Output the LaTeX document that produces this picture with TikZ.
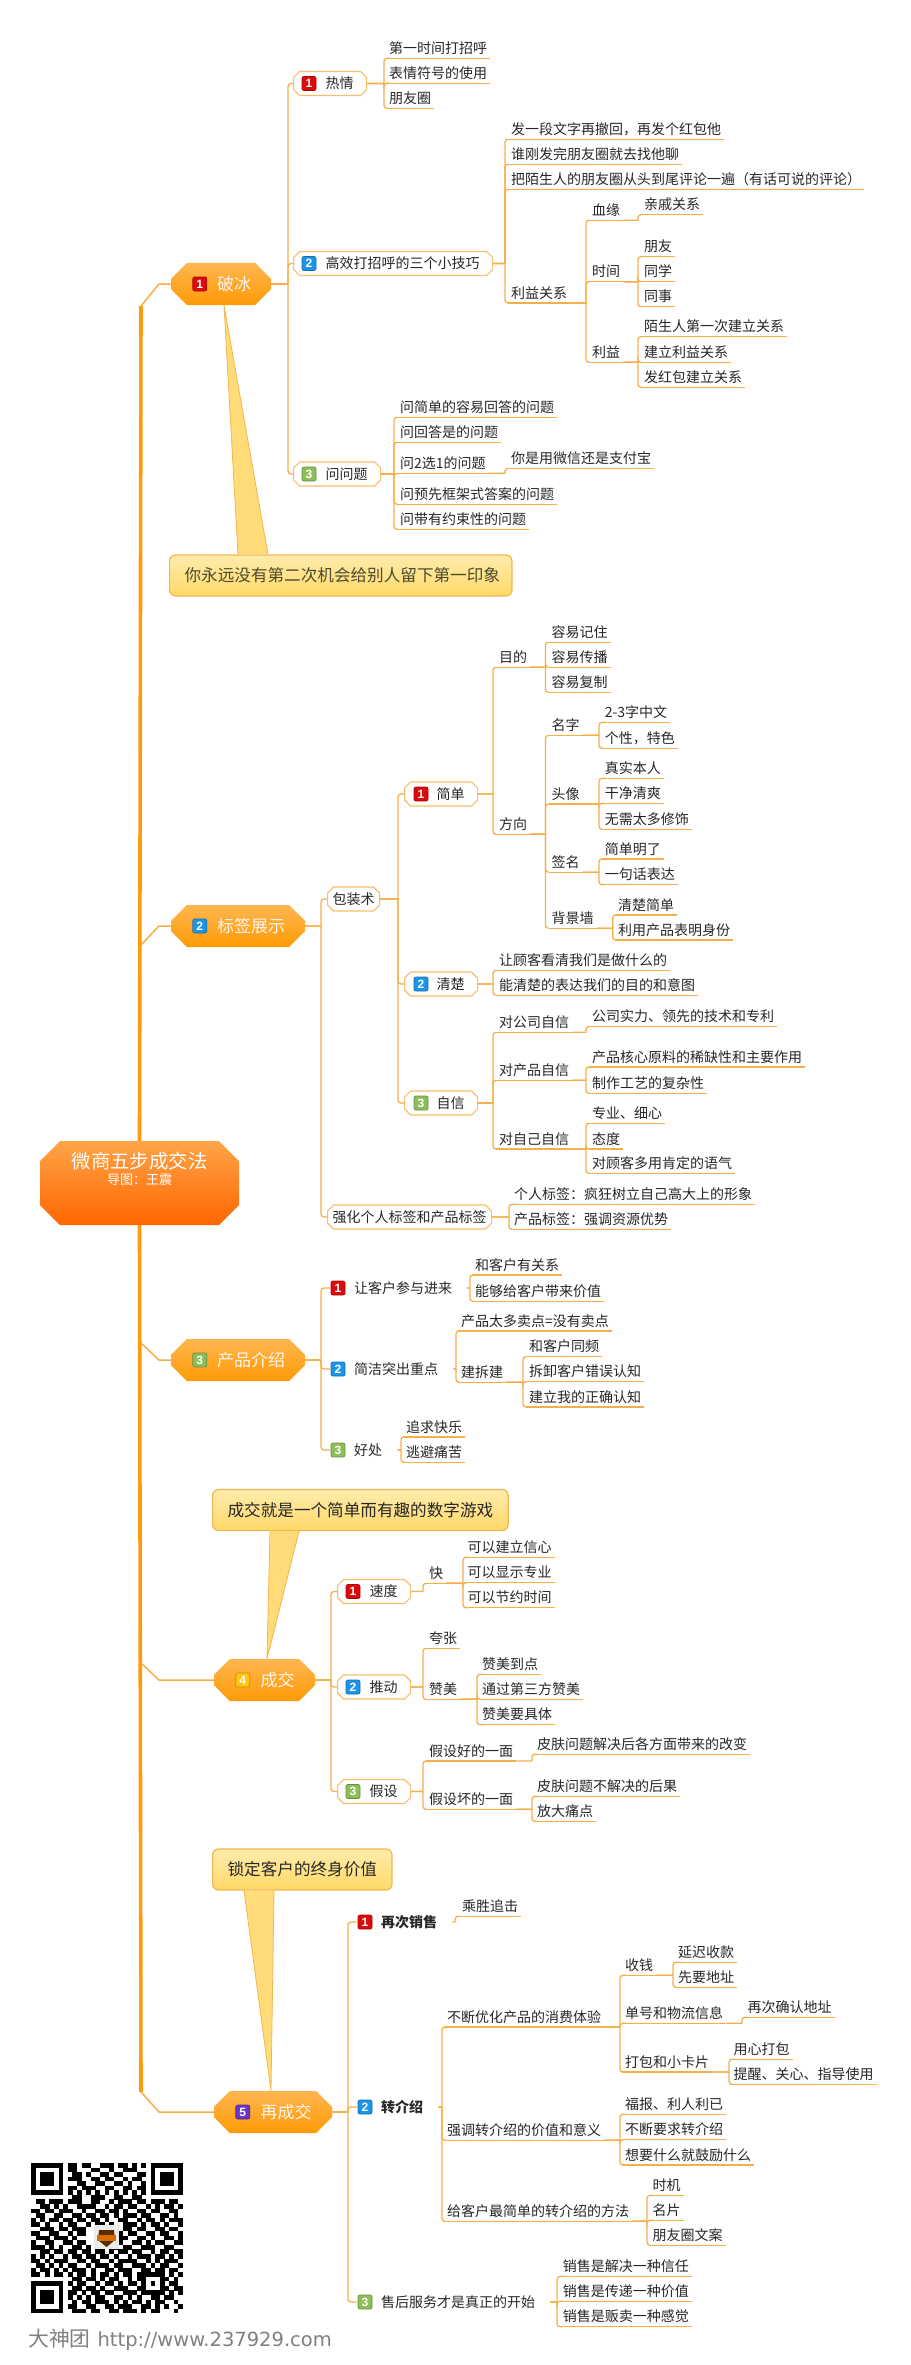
\documentclass[tikz,border=0pt]{standalone}
\usepackage{fontspec}
\setmainfont{Noto Sans CJK SC}
\newfontfamily\numFont{Liberation Sans}
\newfontfamily\webFont{DejaVu Sans}
\usetikzlibrary{shapes.misc}
\definecolor{trunkOrange}{HTML}{FF9A0D}
\definecolor{linkOrange}{HTML}{F6AE48}
\definecolor{mainLight}{HTML}{FFB650}
\definecolor{mainDeep}{HTML}{FF9A05}
\definecolor{rootLight}{HTML}{FFA448}
\definecolor{rootDeep}{HTML}{FF6600}
\definecolor{noteLight}{HTML}{FFEDAC}
\definecolor{noteDeep}{HTML}{FFD868}
\definecolor{noteEdge}{HTML}{F3B552}
\definecolor{numRed}{HTML}{DC0A0A}
\definecolor{numBlue}{HTML}{1B95E8}
\definecolor{numGreen}{HTML}{8DBE57}
\definecolor{numYellow}{HTML}{FFC414}
\definecolor{numPurple}{HTML}{6A35C8}
\tikzset{
link/.style={draw=linkOrange,line width=1.3pt},
branch/.style={to path={-- (#1,0 |- \tikztostart) ++(0,0) [rounded corners=3pt] |- (\tikztotarget)}},
trunk/.style={draw=trunkOrange,line width=3.6pt},
twig/.style={draw=linkOrange,line width=1.5pt},
uline/.style={draw=linkOrange,line width=1.3pt},
leaf/.style={anchor=south west,inner xsep=3pt,inner ysep=2pt,text=black!85,
    font=\fontsize{14}{16}\selectfont,text height=11pt,text depth=2.7pt,
    append after command={(\tikzlastnode.south west) edge[uline] (\tikzlastnode.south east)}},
rootnode/.style={chamfered rectangle,chamfered rectangle xsep=10pt,chamfered rectangle ysep=10pt,
    top color=rootLight,middle color=rootDeep,bottom color=rootDeep,
    minimum width=199pt,minimum height=84pt,inner sep=0pt,text=white,align=center},
mainnode/.style={chamfered rectangle,chamfered rectangle xsep=8pt,chamfered rectangle ysep=8pt,
    top color=mainLight,middle color=mainDeep,bottom color=mainDeep,
    minimum height=42pt,inner sep=0pt,text=white!92!orange,
    font=\fontsize{17}{20}\selectfont,execute at begin node={\hspace*{26pt}}},
subplain/.style={chamfered rectangle,chamfered rectangle xsep=3pt,chamfered rectangle ysep=3pt,
    anchor=west,draw=linkOrange!80,fill=white,line width=1.2pt,minimum height=24pt,
    inner xsep=3pt,inner ysep=0pt,text=black!85,font=\fontsize{14}{16}\selectfont},
subbox/.style={subplain,inner xsep=7pt,execute at begin node={\hspace*{22pt}},execute at end node={\hspace*{3pt}}},
plainkid/.style={anchor=west,inner xsep=0pt,inner ysep=2pt,text=black!85,
    font=\fontsize{14}{16}\selectfont,
    execute at begin node={\hspace*{24pt}},execute at end node={\hspace*{15pt}}},
badge/.style={rectangle,rounded corners=2pt,fill=#1,draw=#1!75!black,line width=0.7pt,
    minimum size=14pt,inner sep=0pt,text=white,font=\numFont\bfseries\fontsize{12}{12}\selectfont},
noteBox/.style={rectangle,rounded corners=6pt,top color=noteLight,bottom color=noteDeep,
    draw=noteEdge,line width=1.2pt,minimum height=41pt,anchor=west,inner xsep=0pt,
    font=\fontsize{16.6}{20}\selectfont},
noteTail/.style={fill=noteDeep!90!white},
noteSide/.style={draw=noteEdge,line width=0.8pt},
qrDot/.style={fill=black}
}
\newcount\qrCol
\newcommand{\qrNext}[1]{\ifx#1\relax\else\if#11\fill[qrDot] ({31+4.6*\the\qrCol},{2163+4.55*\qrRow}) rectangle +(4.7,4.65);\fi\advance\qrCol by 1 \expandafter\qrNext\fi}

\begin{document}
\begin{tikzpicture}[x=1pt,y=-1pt]
    \useasboundingbox (0,0) rectangle (910,2365);

    \node[rootnode] (ce) at (139.5,1183) {{\fontsize{19.4}{20}\selectfont 微商五步成交法}\\[3pt]{\fontsize{13}{16}\selectfont 导图：王震}\\[0pt]\rule{0pt}{27pt}};

    \coordinate (t_1) at (141,306);
    \coordinate (t_2) at (141,945);
    \coordinate (t_3) at (141,1343);
    \coordinate (t_4) at (141,1663);
    \coordinate (t_5) at (141,2092);

    \node[mainnode,minimum width=100pt] (m_1) at (221,284) {破冰};
    \node[mainnode,minimum width=134pt] (m_2) at (238,926) {标签展示};
    \node[mainnode,minimum width=134pt] (m_3) at (238,1360) {产品介绍};
    \node[mainnode,minimum width=101pt] (m_4) at (264.5,1680) {成交};
    \node[mainnode,minimum width=118pt] (m_5) at (273,2112) {再成交};
    \node[badge=numRed] (n_1) at ([xshift=29pt]m_1.west) {1};
    \node[badge=numBlue] (n_2) at ([xshift=29pt]m_2.west) {2};
    \node[badge=numGreen] (n_3) at ([xshift=29pt]m_3.west) {3};
    \node[badge=numYellow] (n_4) at ([xshift=29pt]m_4.west) {4};
    \node[badge=numPurple] (n_5) at ([xshift=29pt]m_5.west) {5};

    \draw[trunk] (ce.north) -- (t_1);
    \draw[trunk] (ce.south) -- (t_5);
    \foreach \k in {1,...,5}
        \draw[twig] (t_\k) -- (159,0 |- m_\k.west) -- (m_\k.west);

    \node[subbox] (a_1) at (293,83.5) {热情};
    \node[subbox] (a_2) at (293,263.5) {高效打招呼的三个小技巧};
    \node[subbox] (a_3) at (293,474) {问问题};
    \node[badge=numRed] (n_a1) at ([xshift=16pt]a_1.west) {1};
    \node[badge=numBlue] (n_a2) at ([xshift=16pt]a_2.west) {2};
    \node[badge=numGreen] (n_a3) at ([xshift=16pt]a_3.west) {3};

    \node[leaf] (a_11) at (386,58.3) {第一时间打招呼};
    \node[leaf] (a_12) at (386,83.3) {表情符号的使用};
    \node[leaf] (a_13) at (386,108.3) {朋友圈};
    \node[leaf] (a_21) at (508,139.3) {发一段文字再撤回，再发个红包他};
    \node[leaf] (a_22) at (508,164.3) {谁刚发完朋友圈就去找他聊};
    \node[leaf] (a_23) at (508,189.3) {把陌生人的朋友圈从头到尾评论一遍（有话可说的评论）};
    \node[leaf] (a_24) at (508,303) {利益关系};
    \node[leaf] (a_241) at (589,220.3) {血缘};
    \node[leaf] (a_242) at (589,281.7) {时间};
    \node[leaf] (a_243) at (589,362.3) {利益};
    \node[leaf] (a_2411) at (641,214.7) {亲戚关系};
    \node[leaf] (a_2421) at (641,256.7) {朋友};
    \node[leaf] (a_2422) at (641,281.7) {同学};
    \node[leaf] (a_2423) at (641,306.7) {同事};
    \node[leaf] (a_2431) at (641,336.7) {陌生人第一次建立关系};
    \node[leaf] (a_2432) at (641,362.3) {建立利益关系};
    \node[leaf] (a_2433) at (641,387.3) {发红包建立关系};
    \node[leaf] (a_31) at (397,417.3) {问简单的容易回答的问题};
    \node[leaf] (a_32) at (397,442.3) {问回答是的问题};
    \node[leaf] (a_33) at (397,473.3) {问2选1的问题};
    \node[leaf] (a_331) at (508,468.3) {你是用微信还是支付宝};
    \node[leaf] (a_34) at (397,504.3) {问预先框架式答案的问题};
    \node[leaf] (a_35) at (397,529.3) {问带有约束性的问题};

    \foreach \k in {a_1,a_2,a_3} \draw[link] (m_1.east) to[branch=288] (\k.west);
    \foreach \k in {a_11,a_12,a_13} \draw[link] (a_1.east) to[branch=384] (\k.south west);
    \foreach \k in {a_21,a_22,a_23,a_24} \draw[link] (a_2.east) to[branch=505] (\k.south west);
    \foreach \k in {a_241,a_242,a_243} \draw[link] (a_24.south east) to[branch=586] (\k.south west);
    \draw[link] (a_241.south east) to[branch=638] (a_2411.south west);
    \foreach \k in {a_2421,a_2422,a_2423} \draw[link] (a_242.south east) to[branch=638] (\k.south west);
    \foreach \k in {a_2431,a_2432,a_2433} \draw[link] (a_243.south east) to[branch=638] (\k.south west);
    \foreach \k in {a_31,a_32,a_33,a_34,a_35} \draw[link] (a_3.east) to[branch=394] (\k.south west);
    \draw[link] (a_33.south east) to[branch=505] (a_331.south west);

    \node[noteBox,text=black!60!olive] (k_1) at (169,575.5) {\hspace*{15pt}你永远没有第二次机会给别人留下第一印象\hspace*{12pt}};
    \fill[noteTail] ([xshift=3pt]m_1.south) -- ([xshift=69pt]k_1.north west) -- ([xshift=99pt]k_1.north west) -- cycle;
    \draw[noteSide] ([xshift=69pt]k_1.north west) -- ([xshift=3pt]m_1.south) -- ([xshift=99pt]k_1.north west);

    \node[subplain,inner xsep=2pt] (b_1) at (327,899) {包装术};
    \node[subplain,inner xsep=2pt] (b_2) at (327,1217) {强化个人标签和产品标签};
    \node[subbox] (b_11) at (404,794) {简单};
    \node[subbox] (b_12) at (404,984) {清楚};
    \node[subbox] (b_13) at (404,1103) {自信};
    \node[badge=numRed] (n_b11) at ([xshift=17pt]b_11.west) {1};
    \node[badge=numBlue] (n_b12) at ([xshift=17pt]b_12.west) {2};
    \node[badge=numGreen] (n_b13) at ([xshift=17pt]b_13.west) {3};

    \node[leaf] (b_111) at (496,667.3) {目的};
    \node[leaf] (b_112) at (496,834.3) {方向};
    \node[leaf] (b_1111) at (548.5,642.3) {容易记住};
    \node[leaf] (b_1112) at (548.5,667.3) {容易传播};
    \node[leaf] (b_1113) at (548.5,692.3) {容易复制};
    \node[leaf] (b_1121) at (548.5,735.3) {名字};
    \node[leaf] (b_1122) at (548.5,804) {头像};
    \node[leaf] (b_1123) at (548.5,872.3) {签名};
    \node[leaf] (b_1124) at (548.5,928.3) {背景墙};
    \node[leaf] (b_11211) at (601.6,722.3) {2-3字中文};
    \node[leaf] (b_11212) at (601.6,748.3) {个性，特色};
    \node[leaf] (b_11221) at (601.6,778.3) {真实本人};
    \node[leaf] (b_11222) at (601.6,803.3) {干净清爽};
    \node[leaf] (b_11223) at (601.6,829.3) {无需太多修饰};
    \node[leaf] (b_11231) at (601.6,859) {简单明了};
    \node[leaf] (b_11232) at (601.6,884.7) {一句话表达};
    \node[leaf] (b_11241) at (615,915) {清楚简单};
    \node[leaf] (b_11242) at (615,940) {利用产品表明身份};
    \node[leaf] (b_121) at (496,970.3) {让顾客看清我们是做什么的};
    \node[leaf] (b_122) at (496,995.3) {能清楚的表达我们的目的和意图};
    \node[leaf] (b_131) at (496,1032.3) {对公司自信};
    \node[leaf] (b_132) at (496,1080.3) {对产品自信};
    \node[leaf] (b_133) at (496,1149) {对自己自信};
    \node[leaf] (b_1311) at (589,1026.7) {公司实力、领先的技术和专利};
    \node[leaf] (b_1321) at (589,1067) {产品核心原料的稀缺性和主要作用};
    \node[leaf] (b_1322) at (589,1093.3) {制作工艺的复杂性};
    \node[leaf] (b_1331) at (589,1123.3) {专业、细心};
    \node[leaf] (b_1332) at (589,1149) {态度};
    \node[leaf] (b_1333) at (589,1173.3) {对顾客多用肯定的语气};
    \node[leaf] (b_21) at (511,1204.3) {个人标签：疯狂树立自己高大上的形象};
    \node[leaf] (b_22) at (511,1229.3) {产品标签：强调资源优势};

    \foreach \k in {b_1,b_2} \draw[link] (m_2.east) to[branch=321] (\k.west);
    \foreach \k in {b_11,b_12,b_13} \draw[link] (b_1.east) to[branch=398] (\k.west);
    \foreach \k in {b_111,b_112} \draw[link] (b_11.east) to[branch=493] (\k.south west);
    \foreach \k in {b_1111,b_1112,b_1113} \draw[link] (b_111.south east) to[branch=545.5] (\k.south west);
    \foreach \k in {b_1121,b_1122,b_1123,b_1124} \draw[link] (b_112.south east) to[branch=545.5] (\k.south west);
    \foreach \k in {b_11211,b_11212} \draw[link] (b_1121.south east) to[branch=599] (\k.south west);
    \foreach \k in {b_11221,b_11222,b_11223} \draw[link] (b_1122.south east) to[branch=599] (\k.south west);
    \foreach \k in {b_11231,b_11232} \draw[link] (b_1123.south east) to[branch=599] (\k.south west);
    \foreach \k in {b_11241,b_11242} \draw[link] (b_1124.south east) to[branch=612.6] (\k.south west);
    \foreach \k in {b_121,b_122} \draw[link] (b_12.east) to[branch=493] (\k.south west);
    \foreach \k in {b_131,b_132,b_133} \draw[link] (b_13.east) to[branch=493] (\k.south west);
    \draw[link] (b_131.south east) to[branch=586] (b_1311.south west);
    \foreach \k in {b_1321,b_1322} \draw[link] (b_132.south east) to[branch=586] (\k.south west);
    \foreach \k in {b_1331,b_1332,b_1333} \draw[link] (b_133.south east) to[branch=586] (\k.south west);
    \foreach \k in {b_21,b_22} \draw[link] (b_2.east) to[branch=509] (\k.south west);

    \node[plainkid] (c_1) at (330,1288) {让客户参与进来};
    \node[plainkid] (c_2) at (330,1369) {简洁突出重点};
    \node[plainkid] (c_3) at (330,1450) {好处};
    \node[badge=numRed] (n_c1) at ([xshift=8pt]c_1.west) {1};
    \node[badge=numBlue] (n_c2) at ([xshift=8pt]c_2.west) {2};
    \node[badge=numGreen] (n_c3) at ([xshift=8pt]c_3.west) {3};

    \node[leaf] (c_11) at (472,1275) {和客户有关系};
    \node[leaf] (c_12) at (472,1301.3) {能够给客户带来价值};
    \node[leaf] (c_21) at (458,1331) {产品太多卖点=没有卖点};
    \node[leaf] (c_22) at (458,1382.3) {建拆建};
    \node[leaf] (c_221) at (526,1356.7) {和客户同频};
    \node[leaf] (c_222) at (526,1381.7) {拆卸客户错误认知};
    \node[leaf] (c_223) at (526,1407) {建立我的正确认知};
    \node[leaf] (c_31) at (403,1437) {追求快乐};
    \node[leaf] (c_32) at (403,1462.3) {逃避痛苦};

    \foreach \k in {c_1,c_2,c_3} \draw[link] (m_3.east) to[branch=321] (\k.west);
    \foreach \k in {c_11,c_12} \draw[link] (c_1.east) to[branch=470] (\k.south west);
    \foreach \k in {c_21,c_22} \draw[link] (c_2.east) to[branch=456] (\k.south west);
    \foreach \k in {c_221,c_222,c_223} \draw[link] (c_22.south east) to[branch=523] (\k.south west);
    \foreach \k in {c_31,c_32} \draw[link] (c_3.east) to[branch=401] (\k.south west);

    \node[noteBox,text=black!85] (k_2) at (212,1510) {\hspace*{15pt}成交就是一个简单而有趣的数字游戏\hspace*{15pt}};
    \fill[noteTail] ([xshift=2.5pt]m_4.north) -- ([xshift=58pt]k_2.south west) -- ([xshift=87pt]k_2.south west) -- cycle;
    \draw[noteSide] ([xshift=58pt]k_2.south west) -- ([xshift=2.5pt]m_4.north) -- ([xshift=87pt]k_2.south west);

    \node[subbox] (d_1) at (337,1591.5) {速度};
    \node[subbox] (d_2) at (337,1687) {推动};
    \node[subbox] (d_3) at (337,1791.5) {假设};
    \node[badge=numRed] (n_d1) at ([xshift=16pt]d_1.west) {1};
    \node[badge=numBlue] (n_d2) at ([xshift=16pt]d_2.west) {2};
    \node[badge=numGreen] (n_d3) at ([xshift=16pt]d_3.west) {3};

    \node[leaf] (d_11) at (426,1583.3) {快};
    \node[leaf] (d_111) at (464.5,1557.3) {可以建立信心};
    \node[leaf] (d_112) at (464.5,1582.7) {可以显示专业};
    \node[leaf] (d_113) at (464.5,1607.7) {可以节约时间};
    \node[leaf] (d_21) at (426,1648.3) {夸张};
    \node[leaf] (d_22) at (426,1699.3) {赞美};
    \node[leaf] (d_221) at (479,1674.3) {赞美到点};
    \node[leaf] (d_222) at (479,1699.3) {通过第三方赞美};
    \node[leaf] (d_223) at (479,1724.7) {赞美要具体};
    \node[leaf] (d_31) at (426,1761) {假设好的一面};
    \node[leaf] (d_32) at (426,1809.3) {假设坏的一面};
    \node[leaf] (d_311) at (534,1754.3) {皮肤问题解决后各方面带来的改变};
    \node[leaf] (d_321) at (534,1796.3) {皮肤问题不解决的后果};
    \node[leaf] (d_322) at (534,1821.3) {放大痛点};

    \foreach \k in {d_1,d_2,d_3} \draw[link] (m_4.east) to[branch=331] (\k.west);
    \draw[link] (d_1.east) to[branch=423] (d_11.south west);
    \foreach \k in {d_111,d_112,d_113} \draw[link] (d_11.south east) to[branch=463] (\k.south west);
    \foreach \k in {d_21,d_22} \draw[link] (d_2.east) to[branch=423] (\k.south west);
    \foreach \k in {d_221,d_222,d_223} \draw[link] (d_22.south east) to[branch=477] (\k.south west);
    \foreach \k in {d_31,d_32} \draw[link] (d_3.east) to[branch=423] (\k.south west);
    \draw[link] (d_31.south east) to[branch=532] (d_311.south west);
    \foreach \k in {d_321,d_322} \draw[link] (d_32.south east) to[branch=532] (\k.south west);

    \node[noteBox,text=black!85] (k_3) at (212,1869.5) {\hspace*{15pt}锁定客户的终身价值\hspace*{15pt}};
    \fill[noteTail] ([xshift=-2pt]m_5.north) -- ([xshift=32pt]k_3.south west) -- ([xshift=62pt]k_3.south west) -- cycle;
    \draw[noteSide] ([xshift=32pt]k_3.south west) -- ([xshift=-2pt]m_5.north) -- ([xshift=62pt]k_3.south west);

    \node[plainkid,font=\fontsize{14}{16}\selectfont\bfseries] (e_1) at (357,1922) {再次销售};
    \node[plainkid,font=\fontsize{14}{16}\selectfont\bfseries] (e_2) at (357,2107) {转介绍};
    \node[plainkid] (e_3) at (357,2302) {售后服务才是真正的开始};
    \node[badge=numRed] (n_e1) at ([xshift=8pt]e_1.west) {1};
    \node[badge=numBlue] (n_e2) at ([xshift=8pt]e_2.west) {2};
    \node[badge=numGreen] (n_e3) at ([xshift=8pt]e_3.west) {3};

    \node[leaf] (e_11) at (459,1916.3) {乘胜追击};
    \node[leaf] (e_21) at (444,2027) {不断优化产品的消费体验};
    \node[leaf] (e_22) at (444,2140.3) {强调转介绍的价值和意义};
    \node[leaf] (e_23) at (444,2221.3) {给客户最简单的转介绍的方法};
    \node[leaf] (e_211) at (622,1975.3) {收钱};
    \node[leaf] (e_212) at (622,2023.3) {单号和物流信息};
    \node[leaf] (e_213) at (622,2072) {打包和小卡片};
    \node[leaf] (e_2111) at (675,1962.3) {延迟收款};
    \node[leaf] (e_2112) at (675,1987.3) {先要地址};
    \node[leaf] (e_2121) at (744.5,2017.3) {再次确认地址};
    \node[leaf] (e_2131) at (730.5,2059.3) {用心打包};
    \node[leaf] (e_2132) at (730.5,2084.3) {提醒、关心、指导使用};
    \node[leaf] (e_221) at (622,2114.3) {福报、利人利已};
    \node[leaf] (e_222) at (622,2139.7) {不断要求转介绍};
    \node[leaf] (e_223) at (622,2165) {想要什么就鼓励什么};
    \node[leaf] (e_231) at (649.5,2195.3) {时机};
    \node[leaf] (e_232) at (649.5,2220.3) {名片};
    \node[leaf] (e_233) at (649.5,2245.3) {朋友圈文案};
    \node[leaf] (e_31) at (559.6,2276.3) {销售是解决一种信任};
    \node[leaf] (e_32) at (559.6,2301.3) {销售是传递一种价值};
    \node[leaf] (e_33) at (559.6,2326.7) {销售是贩卖一种感觉};

    \foreach \k in {e_1,e_2,e_3} \draw[link] (m_5.east) to[branch=348] (\k.west);
    \draw[link] (e_1.east) to[branch=455] (e_11.south west);
    \foreach \k in {e_21,e_22,e_23} \draw[link] (e_2.east) to[branch=442] (\k.south west);
    \foreach \k in {e_211,e_212,e_213} \draw[link] (e_21.south east) to[branch=620] (\k.south west);
    \foreach \k in {e_2111,e_2112} \draw[link] (e_211.south east) to[branch=673] (\k.south west);
    \draw[link] (e_212.south east) to[branch=742] (e_2121.south west);
    \foreach \k in {e_2131,e_2132} \draw[link] (e_213.south east) to[branch=729] (\k.south west);
    \foreach \k in {e_221,e_222,e_223} \draw[link] (e_22.south east) to[branch=620] (\k.south west);
    \foreach \k in {e_231,e_232,e_233} \draw[link] (e_23.south east) to[branch=647] (\k.south west);
    \foreach \k in {e_31,e_32,e_33} \draw[link] (e_3.east) to[branch=557] (\k.south west);

    \foreach \bits [count=\qrRow from 0] in {
        1111111 0 11011001110110101 0 1111111,
        1000001 0 11000110010011100 0 1000001,
        1011101 0 01101001101100011 0 1011101,
        1011101 0 11100110110010110 0 1011101,
        1011101 0 00110011001101001 0 1011101,
        1000001 0 11011100110011011 0 1000001,
        1111111 0 10101010101010101 0 1111111,
        00000000 01100111001100110 00000000,
        01101110111 00110010111 01101110110,
        00110101001 11100101101 10010101101,
        11011011100 10011011010 01101100110,
        01100110011 01101101011 10110011010,
        10101101101 10110100110 01011010111,
        11010010110 01011010011 10101101001,
        00111011011 10000001011 01100110110,
        11001100101 10000000101 10011011001,
        01110111010 00000001110 01101001101,
        10011001101 10000000100 11010110011,
        11101010011 01000001011 00111001100,
        00110110110 11011010110 11001011011,
        10101001011 01101101001 01110110101,
        11010111001 10110010111 10010101110,
        01101010110 01011101100 11101011001,
        10110101011 10100110111 00110110110,
        11010110101 10101101011 01 11111 0101,
        00000000 011 01101011001 01 10001 1010,
        1111111 0 101 10010110101 10 10101 0110,
        1000001 0 011 01101001110 01 10001 1011,
        1011101 0 110 10110110011 10 11111 0101,
        1011101 0 101 01011001101 01 00110 1100,
        1011101 0 010 11011101010 11 01011 0010,
        1000001 0 110 01100110111 00 11010 1001,
        1111111 0 011 10110011011 10 10110 0010}
        {\qrCol=0 \expandafter\qrNext\bits\relax}

    \fill[black!8] (94,2225) rectangle (119,2249);
    \fill[black!65!orange] (99,2230) -- (114,2230) -- (115,2240) -- (106.5,2247) -- (98,2240) -- cycle;
    \fill[orange!85!black] (97,2235) rectangle (116,2241);

    \node[anchor=west,inner sep=0pt,text=black!50,font=\fontsize{20.8}{24}\selectfont] (f_1) at (28,2340) {大神团\hspace{7pt}{\webFont\fontsize{19.5}{24}\selectfont http://www.237929.com}};
\end{tikzpicture}
\end{document}
